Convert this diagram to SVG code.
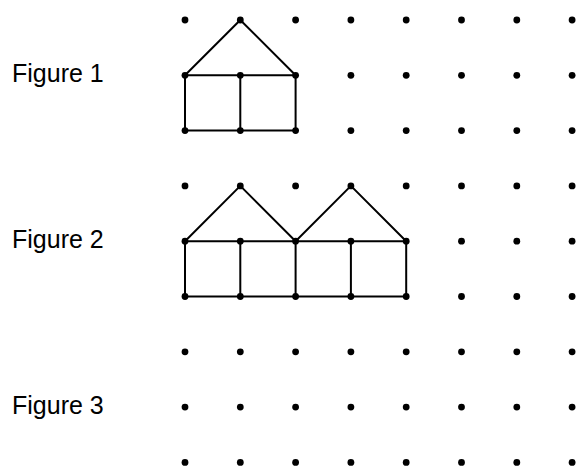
<svg xmlns="http://www.w3.org/2000/svg" width="579" height="471" viewBox="0 0 579 471">
<style>
.lbl{font-family:"Liberation Sans",Arial,sans-serif;font-size:25px;fill:#000}
.d{fill:#000}
.e{stroke:#000;stroke-width:2;fill:none;stroke-linejoin:round}
</style>
<defs><circle id="dot" r="3.4" class="d"/></defs>
<rect width="579" height="471" fill="#fff"/>
<g id="labels">
<text class="lbl" x="12" y="82">Figure 1</text>
<text class="lbl" x="12" y="248">Figure 2</text>
<text class="lbl" x="12" y="414">Figure 3</text>
</g>
<g id="connectors">
<path class="e" d="M185,75.3 L240.3,20 L295.6,75.3 M185,75.3 H295.6 M185,130.6 H295.6 M185,75.3 V130.6 M240.3,75.3 V130.6 M295.6,75.3 V130.6"/>
<path class="e" d="M185,241.2 L240.3,185.9 L295.6,241.2 L350.9,185.9 L406.2,241.2 M185,241.2 H406.2 M185,296.5 H406.2 M185,241.2 V296.5 M240.3,241.2 V296.5 M295.6,241.2 V296.5 M350.9,241.2 V296.5 M406.2,241.2 V296.5"/>
</g>
<g id="figure1-dots">
<g id="r0"><use href="#dot" x="185" y="20"/><use href="#dot" x="240.3" y="20"/><use href="#dot" x="295.6" y="20"/><use href="#dot" x="350.9" y="20"/><use href="#dot" x="406.2" y="20"/><use href="#dot" x="461.5" y="20"/><use href="#dot" x="516.8" y="20"/><use href="#dot" x="572.1" y="20"/></g>
<g id="r1"><use href="#dot" x="185" y="75.3"/><use href="#dot" x="240.3" y="75.3"/><use href="#dot" x="295.6" y="75.3"/><use href="#dot" x="350.9" y="75.3"/><use href="#dot" x="406.2" y="75.3"/><use href="#dot" x="461.5" y="75.3"/><use href="#dot" x="516.8" y="75.3"/><use href="#dot" x="572.1" y="75.3"/></g>
<g id="r2"><use href="#dot" x="185" y="130.6"/><use href="#dot" x="240.3" y="130.6"/><use href="#dot" x="295.6" y="130.6"/><use href="#dot" x="350.9" y="130.6"/><use href="#dot" x="406.2" y="130.6"/><use href="#dot" x="461.5" y="130.6"/><use href="#dot" x="516.8" y="130.6"/><use href="#dot" x="572.1" y="130.6"/></g>
</g>
<g id="figure2-dots">
<g id="r3"><use href="#dot" x="185" y="185.9"/><use href="#dot" x="240.3" y="185.9"/><use href="#dot" x="295.6" y="185.9"/><use href="#dot" x="350.9" y="185.9"/><use href="#dot" x="406.2" y="185.9"/><use href="#dot" x="461.5" y="185.9"/><use href="#dot" x="516.8" y="185.9"/><use href="#dot" x="572.1" y="185.9"/></g>
<g id="r4"><use href="#dot" x="185" y="241.2"/><use href="#dot" x="240.3" y="241.2"/><use href="#dot" x="295.6" y="241.2"/><use href="#dot" x="350.9" y="241.2"/><use href="#dot" x="406.2" y="241.2"/><use href="#dot" x="461.5" y="241.2"/><use href="#dot" x="516.8" y="241.2"/><use href="#dot" x="572.1" y="241.2"/></g>
<g id="r5"><use href="#dot" x="185" y="296.5"/><use href="#dot" x="240.3" y="296.5"/><use href="#dot" x="295.6" y="296.5"/><use href="#dot" x="350.9" y="296.5"/><use href="#dot" x="406.2" y="296.5"/><use href="#dot" x="461.5" y="296.5"/><use href="#dot" x="516.8" y="296.5"/><use href="#dot" x="572.1" y="296.5"/></g>
</g>
<g id="figure3-dots">
<g id="r6"><use href="#dot" x="185" y="351.8"/><use href="#dot" x="240.3" y="351.8"/><use href="#dot" x="295.6" y="351.8"/><use href="#dot" x="350.9" y="351.8"/><use href="#dot" x="406.2" y="351.8"/><use href="#dot" x="461.5" y="351.8"/><use href="#dot" x="516.8" y="351.8"/><use href="#dot" x="572.1" y="351.8"/></g>
<g id="r7"><use href="#dot" x="185" y="407.1"/><use href="#dot" x="240.3" y="407.1"/><use href="#dot" x="295.6" y="407.1"/><use href="#dot" x="350.9" y="407.1"/><use href="#dot" x="406.2" y="407.1"/><use href="#dot" x="461.5" y="407.1"/><use href="#dot" x="516.8" y="407.1"/><use href="#dot" x="572.1" y="407.1"/></g>
<g id="r8"><use href="#dot" x="185" y="462.4"/><use href="#dot" x="240.3" y="462.4"/><use href="#dot" x="295.6" y="462.4"/><use href="#dot" x="350.9" y="462.4"/><use href="#dot" x="406.2" y="462.4"/><use href="#dot" x="461.5" y="462.4"/><use href="#dot" x="516.8" y="462.4"/><use href="#dot" x="572.1" y="462.4"/></g>
</g>
</svg>
